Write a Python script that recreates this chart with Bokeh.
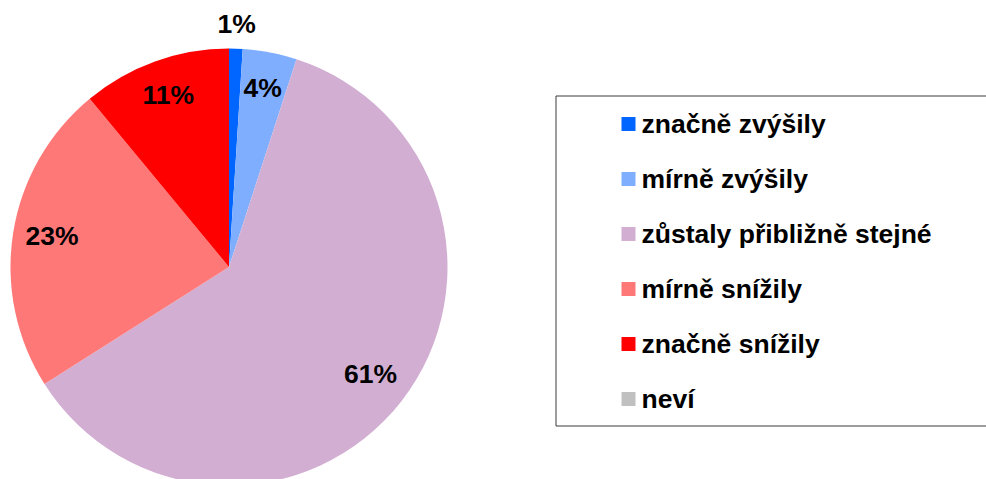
import numpy as np
from bokeh.plotting import figure
from bokeh.models import Range1d, ColumnDataSource
from bokeh.core.properties import value
from bokeh.embed import file_html
from bokeh.resources import INLINE

categories = ["značně zvýšily", "mírně zvýšily", "zůstaly přibližně stejné",
              "mírně snížily", "značně snížily", "neví"]
percent = [1, 4, 61, 23, 11, 0]
colors = ["#0066FF", "#80AEFF", "#D2AFD2", "#FF7878", "#FF0000", "#C0C0C0"]

W, H = 986, 479
FONT = value("Liberation Sans")
FS = "26.5px"

p = figure(width=W, height=H, output_backend="svg", toolbar_location=None,
           x_range=Range1d(0, W), y_range=Range1d(-H, 0),
           min_border=0)
p.axis.visible = False
p.grid.visible = False
p.outline_line_color = None
p.background_fill_color = "white"

# pie
cx, cy, R = 228.5, -266.5, 218.5
vals = np.array(percent, dtype=float)
frac = vals / vals.sum()
cum = np.concatenate([[0], np.cumsum(frac)])
start = np.pi / 2 - 2 * np.pi * cum[:-1]
end = np.pi / 2 - 2 * np.pi * cum[1:]
keep = vals > 0
src = ColumnDataSource(dict(start=start[keep], end=end[keep],
                            color=list(np.array(colors)[keep])))
p.wedge(x=cx, y=cy, radius=R, start_angle="start", end_angle="end",
        direction="clock", fill_color="color", line_color=None, source=src)

# pie labels
mid = (cum[:-1] + cum[1:]) / 2
lx, ly, lt = [], [], []
for v, m in zip(percent, mid):
    if v <= 0:
        continue
    r = R * 1.1 if v < 2 else R * 0.82
    ang = 2 * np.pi * m
    lx.append(cx + r * np.sin(ang))
    ly.append(cy + r * np.cos(ang) + 3)
    lt.append(f"{v}%")
p.text(x=lx, y=ly, text=lt, text_font=FONT, text_font_style="bold",
       text_font_size=FS, text_align="center", text_baseline="middle",
       text_color="black")

# legend (manual)
box_l, box_t, box_b = 555.5, 95.5, 425.5
p.quad(left=[box_l], right=[1100], top=[-box_t], bottom=[-box_b],
       fill_color=None, line_color="#3a3a3a", line_width=1)
row0, step = 123.5, 55
ys = [-(row0 + i * step) for i in range(len(categories))]
p.rect(x=[628] * len(categories), y=ys, width=14, height=14,
       fill_color=colors, line_color=None)
p.text(x=[641] * len(categories), y=ys, text=categories, text_font=FONT,
       text_font_style="bold", text_font_size=FS, text_align="left",
       text_baseline="alphabetic", text_color="black")

open("out.html", "w").write(file_html(p, INLINE))
